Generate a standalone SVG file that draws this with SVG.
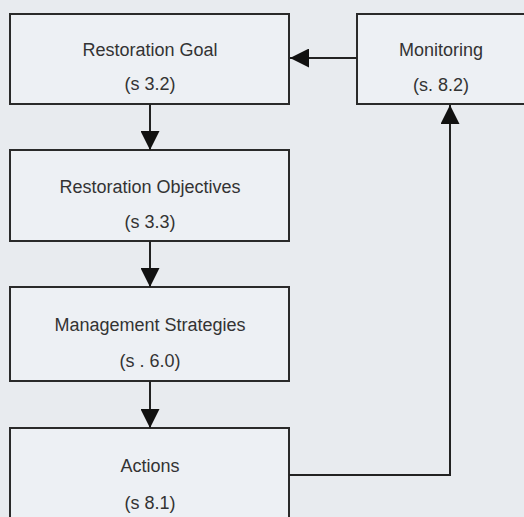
<svg xmlns="http://www.w3.org/2000/svg" width="524" height="517" viewBox="0 0 524 517">
<style>
.box{fill:#edf0f4;stroke:#2a2a2a;stroke-width:2}
.t{font-family:"Liberation Sans",Arial,sans-serif;font-size:18px;fill:#333;text-anchor:middle}
.c{fill:none;stroke:#222;stroke-width:2}
</style>
<defs>
<marker id="ah" viewBox="0 0 20 20" refX="20" refY="10" markerWidth="20" markerHeight="19" markerUnits="userSpaceOnUse" orient="auto">
<path d="M0,0 L20,10 L0,20 z" fill="#111"/>
</marker>
</defs>
<rect width="524" height="517" fill="#e8ebef"/>
<g id="goal">
<rect class="box" x="10" y="14" width="279" height="90"/>
<text class="t" x="150" y="56">Restoration Goal</text>
<text class="t" x="150" y="90">(s 3.2)</text>
</g>
<g id="monitoring">
<rect class="box" x="357" y="14" width="175" height="90"/>
<text class="t" x="441" y="56">Monitoring</text>
<text class="t" x="441" y="91">(s. 8.2)</text>
</g>
<g id="objectives">
<rect class="box" x="10" y="150" width="279" height="91"/>
<text class="t" x="150" y="193">Restoration Objectives</text>
<text class="t" x="150" y="228">(s 3.3)</text>
</g>
<g id="strategies">
<rect class="box" x="10" y="287" width="279" height="94"/>
<text class="t" x="150" y="331">Management Strategies</text>
<text class="t" x="150" y="367">(s . 6.0)</text>
</g>
<g id="actions">
<rect class="box" x="10" y="428" width="279" height="100"/>
<text class="t" x="150" y="472">Actions</text>
<text class="t" x="150" y="509">(s 8.1)</text>
</g>
<g id="connectors">
<path class="c" d="M357,58 L290,58" marker-end="url(#ah)"/>
<path class="c" d="M150,104 L150,150" marker-end="url(#ah)"/>
<path class="c" d="M150,241 L150,287" marker-end="url(#ah)"/>
<path class="c" d="M150,381 L150,428" marker-end="url(#ah)"/>
<path class="c" d="M289,475 L450,475 L450,105" marker-end="url(#ah)"/>
</g>
</svg>
